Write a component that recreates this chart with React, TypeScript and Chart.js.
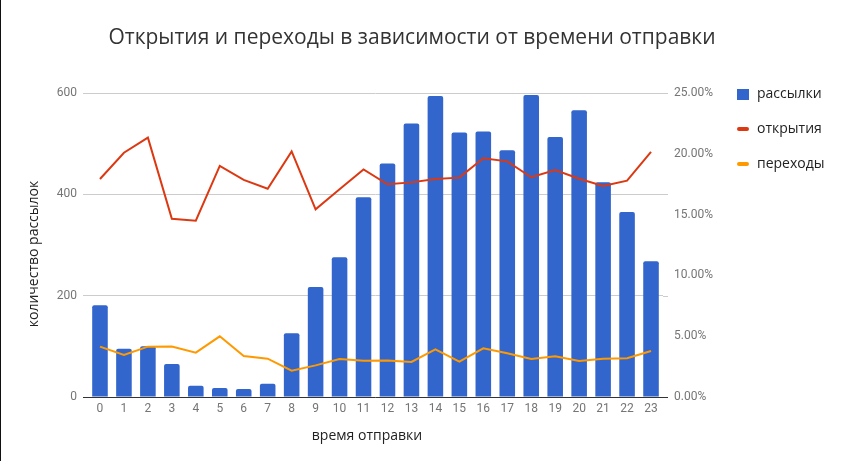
import React, { useEffect, useRef } from "react";
import { Chart, registerables, Plugin } from "chart.js";

Chart.register(...registerables);

const TITLE = "Открытия и переходы в зависимости от времени отправки";
const X_TITLE = "время отправки";
const Y_TITLE = "количество рассылок";

const hours = [
  "0", "1", "2", "3", "4", "5", "6", "7", "8", "9", "10", "11",
  "12", "13", "14", "15", "16", "17", "18", "19", "20", "21", "22", "23",
];
// количество рассылок
const mailings = [
  181, 95, 100, 65, 22, 18, 16, 26, 126, 217, 276, 394,
  461, 540, 594, 522, 524, 487, 596, 513, 566, 424, 365, 268,
];
// открытия, %
const opens = [
  17.93, 20.09, 21.33, 14.66, 14.5, 19.0, 17.85, 17.13, 20.2, 15.43, 17.08, 18.72,
  17.49, 17.65, 17.93, 18.04, 19.63, 19.38, 18.07, 18.67, 17.95, 17.35, 17.79, 20.15,
];
// переходы, %
const clicks = [
  4.14, 3.45, 4.14, 4.16, 3.65, 4.99, 3.37, 3.15, 2.17, 2.6, 3.12, 2.99,
  3.01, 2.88, 3.92, 2.9, 4.0, 3.59, 3.12, 3.35, 2.96, 3.15, 3.18, 3.78,
];
const leftTicks = [0, 200, 400, 600];
const rightTicks = [0, 5, 10, 15, 20, 25];

const legendItems = [
  { label: "рассылки", color: "#3366cc", kind: "box" },
  { label: "открытия", color: "#dc3912", kind: "line" },
  { label: "переходы", color: "#ff9900", kind: "line" },
];

const decorPlugin: Plugin<"bar"> = {
  id: "decor",
  afterDraw(chart) {
    const { ctx, chartArea } = chart;
    const yScale = chart.scales.y;
    ctx.save();

    // short stubs of the gridlines next to the right axis
    ctx.strokeStyle = "#cccccc";
    ctx.lineWidth = 1;
    leftTicks.forEach((v) => {
      if (v === 0) return;
      const y = Math.round(yScale.getPixelForValue(v)) + 0.5;
      ctx.beginPath();
      ctx.moveTo(chartArea.right, y);
      ctx.lineTo(chartArea.right + 5, y);
      ctx.stroke();
    });
    ctx.strokeStyle = "#333333";
    const y0 = Math.round(yScale.getPixelForValue(0)) + 0.5;
    ctx.beginPath();
    ctx.moveTo(chartArea.left - 5, y0);
    ctx.lineTo(chartArea.right + 5, y0);
    ctx.stroke();

    // title
    ctx.fillStyle = "#333333";
    ctx.font = "21px 'Open Sans'";
    ctx.textAlign = "center";
    ctx.textBaseline = "middle";
    ctx.fillText(TITLE, 412, 38);

    // axis titles
    ctx.fillStyle = "#222222";
    ctx.font = "14px 'Open Sans'";
    ctx.fillText(X_TITLE, 367, 436);
    ctx.save();
    ctx.translate(34, 254);
    ctx.rotate(-Math.PI / 2);
    ctx.fillText(Y_TITLE, 0, 0);
    ctx.restore();

    // legend
    const lx = chartArea.right + 74;
    legendItems.forEach((item, i) => {
      const cy = 94 + i * 35;
      ctx.fillStyle = item.color;
      if (item.kind === "box") {
        ctx.fillRect(lx, cy - 5, 12, 11);
      } else {
        ctx.strokeStyle = item.color;
        ctx.lineWidth = 4;
        ctx.lineCap = "round";
        ctx.beginPath();
        ctx.moveTo(lx + 2, cy);
        ctx.lineTo(lx + 10, cy);
        ctx.stroke();
      }
      ctx.fillStyle = "#222222";
      ctx.textAlign = "left";
      ctx.font = "14px 'Open Sans'";
      ctx.fillText(item.label, lx + 20, cy);
    });

    ctx.restore();
  },
};

const App: React.FC = () => {
  const canvasRef = useRef<HTMLCanvasElement | null>(null);

  useEffect(() => {
    const canvas = canvasRef.current;
    if (!canvas) return;

    const tickFont = { family: "Roboto", size: 12 };

    const chart = new Chart(canvas, {
      type: "bar",
      data: {
        labels: hours,
        datasets: [
          {
            type: "line",
            label: "открытия",
            data: opens,
            yAxisID: "y1",
            borderColor: "#dc3912",
            backgroundColor: "#dc3912",
            borderWidth: 2,
            pointRadius: 0,
            tension: 0,
            order: 1,
          } as any,
          {
            type: "line",
            label: "переходы",
            data: clicks,
            yAxisID: "y1",
            borderColor: "#ff9900",
            backgroundColor: "#ff9900",
            borderWidth: 2,
            pointRadius: 0,
            tension: 0,
            order: 2,
          } as any,
          {
            type: "bar",
            label: "рассылки",
            data: mailings,
            yAxisID: "y",
            backgroundColor: "#3366cc",
            barPercentage: 0.65,
            categoryPercentage: 1,
            borderRadius: 2,
            order: 3,
          },
        ],
      },
      options: {
        animation: false,
        responsive: true,
        maintainAspectRatio: false,
        layout: { padding: { top: 93, right: 108, bottom: 0, left: 0 } },
        plugins: {
          legend: { display: false },
          title: { display: false },
          tooltip: { enabled: false },
        },
        scales: {
          x: {
            grid: { display: false, drawTicks: false },
            border: { display: false },
            ticks: { color: "#757575", font: tickFont, padding: 5, maxRotation: 0, autoSkip: false },
            afterFit: (s) => {
              s.height = 64;
            },
          },
          y: {
            position: "left",
            min: 0,
            max: 600,
            afterBuildTicks: (s) => {
              s.ticks = leftTicks.map((v) => ({ value: v }));
            },
            grid: { color: "#cccccc", tickLength: 5, drawTicks: true },
            border: { display: false },
            ticks: { color: "#757575", font: tickFont, padding: 6 },
            afterFit: (s) => {
              s.width = 88;
            },
          },
          y1: {
            position: "right",
            min: 0,
            max: 25,
            afterBuildTicks: (s) => {
              s.ticks = rightTicks.map((v) => ({ value: v }));
            },
            grid: { display: false, drawTicks: false },
            border: { display: false },
            ticks: {
              color: "#757575",
              font: tickFont,
              padding: 11,
              callback: (v) => Number(v).toFixed(2) + "%",
            },
            afterFit: (s) => {
              s.width = 70;
            },
          },
        },
      },
      plugins: [decorPlugin],
    });

    return () => {
      chart.destroy();
    };
  }, []);

  return (
    <div
      style={{
        position: "absolute",
        left: 0,
        top: 0,
        width: 841,
        height: 461,
        background: "#ffffff",
        boxShadow: "inset 1px 0 0 #111111",
      }}
    >
      <canvas ref={canvasRef} />
    </div>
  );
};

export default App;
